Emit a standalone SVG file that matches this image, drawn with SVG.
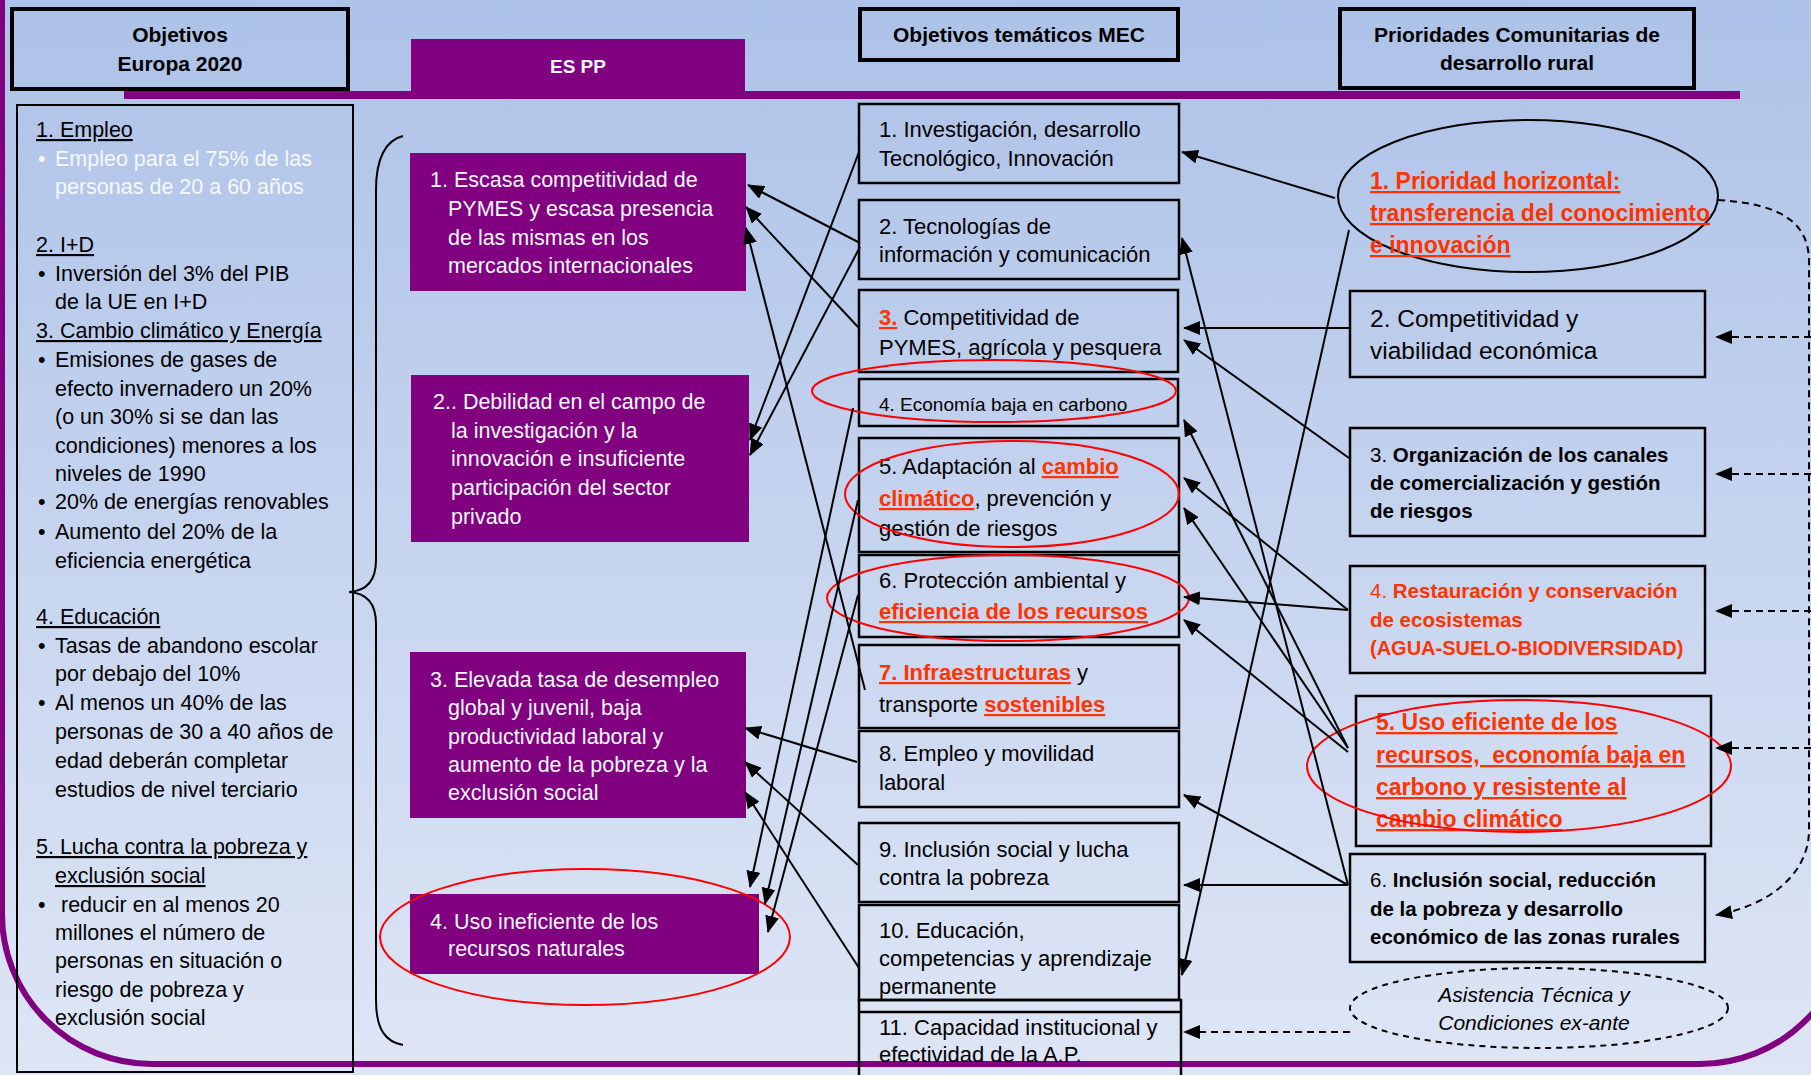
<svg xmlns="http://www.w3.org/2000/svg" width="1811" height="1075" viewBox="0 0 1811 1075">
<defs>
<linearGradient id="bg" x1="0" y1="0" x2="0" y2="1">
<stop offset="0" stop-color="#ADC2E8"/>
<stop offset="1" stop-color="#DEE6F5"/>
</linearGradient>
<marker id="ah" markerUnits="userSpaceOnUse" markerWidth="17" markerHeight="14" refX="16" refY="7" orient="auto">
<path d="M0,0 L17,7 L0,14 z" fill="#000"/>
</marker>
<style>
text { font-family: "Liberation Sans", Arial, sans-serif; font-size: 21.5px; fill: #000; }
.m { font-size: 22px; }
.sm { font-size: 19px; }
.p { font-size: 20.5px; }
.big { font-size: 24.5px; }
.pb { font-size: 23px; font-weight: bold; fill: #FF3300; text-decoration: underline; }
.h { font-size: 21px; font-weight: bold; }
.w { fill: #F6F8FC; }
.b { font-weight: bold; }
.r { fill: #FF3300; }
.u { text-decoration: underline; }
.it { font-style: italic; font-size: 21px; }
.box { fill: none; stroke: #000; stroke-width: 2.5; }
.hbox { fill: none; stroke: #000; stroke-width: 4; }
.pbox { fill: #800080; }
.ell { fill: none; stroke: #FF0000; stroke-width: 2; }
.c { stroke: #000; stroke-width: 2; fill: none; marker-end: url(#ah); }
.d { stroke: #000; stroke-width: 2; stroke-dasharray: 7 5; fill: none; }
</style>
</defs>
<rect x="0" y="0" width="1811" height="1075" fill="url(#bg)"/>
<path d="M2,0 V913 A150,150 0 0 0 152,1064 H1700 A150,150 0 0 0 1850,913" stroke="#800080" stroke-width="6" fill="none"/>
<rect x="124" y="91" width="1616" height="8" fill="#800080"/>

<g id="hdr-europa">
<rect class="hbox" x="12" y="9" width="336" height="80"/>
<text class="h" x="180" y="42" text-anchor="middle">Objetivos</text>
<text class="h" x="180" y="71" text-anchor="middle">Europa 2020</text>
</g>
<g id="hdr-espp">
<rect class="pbox" x="411" y="39" width="334" height="53"/>
<text class="b w" x="578" y="73" text-anchor="middle" style="font-size:19px">ES PP</text>
</g>
<g id="hdr-mec">
<rect class="hbox" x="860" y="9" width="318" height="51"/>
<text class="h" x="1019" y="42" text-anchor="middle">Objetivos temáticos MEC</text>
</g>
<g id="hdr-prior">
<rect class="hbox" x="1340" y="9" width="354" height="79"/>
<text class="h" x="1517" y="42" text-anchor="middle">Prioridades Comunitarias de</text>
<text class="h" x="1517" y="70" text-anchor="middle">desarrollo rural</text>
</g>

<g id="europa2020">
<rect x="17" y="105" width="336" height="967" fill="none" stroke="#000" stroke-width="2"/>
<text class="u" x="36" y="137">1. Empleo</text>
<text class="w" x="38" y="166">•</text><text class="w" x="55" y="166">Empleo para el 75% de las</text>
<text class="w" x="55" y="194">personas de 20 a 60 años</text>
<text class="u" x="36" y="252">2. I+D</text>
<text x="38" y="281">•</text><text x="55" y="281">Inversión del 3% del PIB</text>
<text x="55" y="309">de la UE en I+D</text>
<text class="u" x="36" y="338">3. Cambio climático y Energía</text>
<text x="38" y="367">•</text><text x="55" y="367">Emisiones de gases de</text>
<text x="55" y="396">efecto invernadero un 20%</text>
<text x="55" y="424">(o un 30% si se dan las</text>
<text x="55" y="453">condiciones) menores a los</text>
<text x="55" y="481">niveles de 1990</text>
<text x="38" y="509">•</text><text x="55" y="509">20% de energías renovables</text>
<text x="38" y="539">•</text><text x="55" y="539">Aumento del 20% de la</text>
<text x="55" y="568">eficiencia energética</text>
<text class="u" x="36" y="624">4. Educación</text>
<text x="38" y="653">•</text><text x="55" y="653">Tasas de abandono escolar</text>
<text x="55" y="681">por debajo del 10%</text>
<text x="38" y="710">•</text><text x="55" y="710">Al menos un 40% de las</text>
<text x="55" y="739">personas de 30 a 40 años de</text>
<text x="55" y="768">edad deberán completar</text>
<text x="55" y="797">estudios de nivel terciario</text>
<text class="u" x="36" y="854">5. Lucha contra la pobreza y</text>
<text class="u" x="55" y="883">exclusión social</text>
<text x="38" y="912">•</text><text x="61" y="912">reducir en al menos 20</text>
<text x="55" y="940">millones el número de</text>
<text x="55" y="968">personas en situación o</text>
<text x="55" y="997">riesgo de pobreza y</text>
<text x="55" y="1025">exclusión social</text>
</g>

<g id="brace">
<path d="M403,136 C386,140 376,158 376,190 L376,560 C376,582 366,591 349,592 C366,593 376,602 376,624 L376,1000 C376,1030 386,1042 403,1045" fill="none" stroke="#000" stroke-width="2"/>
</g>

<g id="espp1">
<rect class="pbox" x="410" y="153" width="336" height="138"/>
<text class="w" x="430" y="187">1. Escasa competitividad de</text>
<text class="w" x="448" y="216">PYMES y escasa presencia</text>
<text class="w" x="448" y="245">de las mismas en los</text>
<text class="w" x="448" y="273">mercados internacionales</text>
</g>
<g id="espp2">
<rect class="pbox" x="411" y="375" width="338" height="167"/>
<text class="w" x="433" y="409">2.. Debilidad en el campo de</text>
<text class="w" x="451" y="438">la investigación y la</text>
<text class="w" x="451" y="466">innovación e insuficiente</text>
<text class="w" x="451" y="495">participación del sector</text>
<text class="w" x="451" y="524">privado</text>
</g>
<g id="espp3">
<rect class="pbox" x="410" y="652" width="336" height="166"/>
<text class="w" x="430" y="687">3. Elevada tasa de desempleo</text>
<text class="w" x="448" y="715">global y juvenil, baja</text>
<text class="w" x="448" y="744">productividad laboral y</text>
<text class="w" x="448" y="772">aumento de la pobreza y la</text>
<text class="w" x="448" y="800">exclusión social</text>
</g>
<g id="espp4">
<rect class="pbox" x="410" y="894" width="349" height="80"/>
<text class="w" x="430" y="929">4. Uso ineficiente de los</text>
<text class="w" x="448" y="956">recursos naturales</text>
<ellipse class="ell" cx="585" cy="937" rx="205" ry="68"/>
</g>

<g id="mec1">
<rect class="box" x="859" y="104" width="320" height="79"/>
<text class="m" x="879" y="137">1. Investigación, desarrollo</text>
<text class="m" x="879" y="166">Tecnológico, Innovación</text>
</g>
<g id="mec2">
<rect class="box" x="859" y="200" width="320" height="79"/>
<text class="m" x="879" y="234">2. Tecnologías de</text>
<text class="m" x="879" y="262">información y comunicación</text>
</g>
<g id="mec3">
<rect class="box" x="859" y="290" width="319" height="82"/>
<text class="m" x="879" y="325"><tspan class="r b u">3.</tspan> Competitividad de</text>
<text class="m" x="879" y="355">PYMES, agrícola y pesquera</text>
</g>
<g id="mec4">
<rect class="box" x="859" y="379" width="319" height="47"/>
<text class="sm" x="879" y="411">4. Economía baja en carbono</text>
<ellipse class="ell" cx="994" cy="391" rx="182" ry="31"/>
</g>
<g id="mec5">
<rect class="box" x="859" y="438" width="320" height="114"/>
<text class="m" x="879" y="474">5. Adaptación al <tspan class="r b u">cambio</tspan></text>
<text class="m" x="879" y="506"><tspan class="r b u">climático</tspan>, prevención y</text>
<text class="m" x="879" y="536">gestión de riesgos</text>
<ellipse class="ell" cx="1012" cy="494" rx="167" ry="53"/>
</g>
<g id="mec6">
<rect class="box" x="859" y="555" width="320" height="82"/>
<text class="m" x="879" y="588">6. Protección ambiental y</text>
<text class="m r b u" x="879" y="619">eficiencia de los recursos</text>
<ellipse class="ell" cx="1008" cy="598" rx="181" ry="43"/>
</g>
<g id="mec7">
<rect class="box" x="859" y="645" width="320" height="83"/>
<text class="m" x="879" y="680"><tspan class="r b u">7. Infraestructuras</tspan> y</text>
<text class="m" x="879" y="712">transporte <tspan class="r b u">sostenibles</tspan></text>
</g>
<g id="mec8">
<rect class="box" x="859" y="731" width="320" height="76"/>
<text class="m" x="879" y="761">8. Empleo y movilidad</text>
<text class="m" x="879" y="790">laboral</text>
</g>
<g id="mec9">
<rect class="box" x="859" y="823" width="320" height="79"/>
<text class="m" x="879" y="857">9. Inclusión social y lucha</text>
<text class="m" x="879" y="885">contra la pobreza</text>
</g>
<g id="mec10">
<rect class="box" x="859" y="905" width="320" height="95"/>
<text class="m" x="879" y="938">10. Educación,</text>
<text class="m" x="879" y="966">competencias y aprendizaje</text>
<text class="m" x="879" y="994">permanente</text>
</g>
<g id="mec11">
<rect class="box" x="859" y="1000" width="322" height="92"/>
<line x1="859" y1="1012" x2="1181" y2="1012" stroke="#000" stroke-width="2.5"/>
<text class="m" x="879" y="1035">11. Capacidad institucional y</text>
<text class="m" x="879" y="1062">efectividad de la A.P.</text>
</g>

<g id="prio1">
<ellipse cx="1528" cy="196" rx="190" ry="76" fill="none" stroke="#000" stroke-width="2"/>
<text class="pb" x="1370" y="189">1. Prioridad horizontal:</text>
<text class="pb" x="1370" y="221">transferencia del conocimiento</text>
<text class="pb" x="1370" y="253">e innovación</text>
</g>
<g id="prio2">
<rect class="box" x="1350" y="291" width="355" height="86"/>
<text class="big" x="1370" y="327">2. Competitividad y</text>
<text class="big" x="1370" y="359">viabilidad económica</text>
</g>
<g id="prio3">
<rect class="box" x="1350" y="428" width="355" height="108"/>
<text class="p" x="1370" y="462">3. <tspan class="b">Organización de los canales</tspan></text>
<text class="p b" x="1370" y="490">de comercialización y gestión</text>
<text class="p b" x="1370" y="518">de riesgos</text>
</g>
<g id="prio4">
<rect class="box" x="1350" y="566" width="355" height="107"/>
<text class="p r" x="1370" y="598">4. <tspan class="b">Restauración y conservación</tspan></text>
<text class="p r b" x="1370" y="627">de ecosistemas</text>
<text class="p r b" x="1370" y="655" style="font-size:20px">(AGUA-SUELO-BIODIVERSIDAD)</text>
</g>
<g id="prio5">
<rect class="box" x="1356" y="696" width="355" height="150"/>
<text class="pb" x="1376" y="730">5. Uso eficiente de los</text>
<text class="pb" x="1376" y="763" xml:space="preserve">recursos,  economía baja en</text>
<text class="pb" x="1376" y="795">carbono y resistente al</text>
<text class="pb" x="1376" y="827">cambio climático</text>
<ellipse class="ell" cx="1519" cy="766" rx="212" ry="66"/>
</g>
<g id="prio6">
<rect class="box" x="1350" y="854" width="355" height="108"/>
<text class="p" x="1370" y="887">6. <tspan class="b">Inclusión social, reducción</tspan></text>
<text class="p b" x="1370" y="916">de la pobreza y desarrollo</text>
<text class="p b" x="1370" y="944">económico de las zonas rurales</text>
</g>
<g id="asistencia">
<ellipse cx="1539" cy="1008" rx="189" ry="40" fill="none" stroke="#000" stroke-width="2" stroke-dasharray="6 5"/>
<text class="it" x="1534" y="1002" text-anchor="middle">Asistencia Técnica y</text>
<text class="it" x="1534" y="1030" text-anchor="middle">Condiciones ex-ante</text>
</g>

<g id="connectors">
<line class="c" x1="860" y1="243" x2="748" y2="185"/>
<line class="c" x1="858" y1="327" x2="746" y2="207"/>
<line class="c" x1="865" y1="690" x2="746" y2="228"/>
<line class="c" x1="859" y1="152" x2="750" y2="440"/>
<line class="c" x1="860" y1="247" x2="750" y2="455"/>
<line class="c" x1="857" y1="762" x2="745" y2="728"/>
<line class="c" x1="858" y1="865" x2="745" y2="762"/>
<line class="c" x1="859" y1="968" x2="745" y2="792"/>
<line class="c" x1="853" y1="408" x2="750" y2="887"/>
<line class="c" x1="858" y1="500" x2="765" y2="904"/>
<line class="c" x1="858" y1="595" x2="768" y2="932"/>

<line class="c" x1="1335" y1="198" x2="1182" y2="152"/>
<line class="c" x1="1349" y1="230" x2="1182" y2="975"/>
<line class="c" x1="1349" y1="328" x2="1184" y2="328"/>
<line class="c" x1="1349" y1="458" x2="1184" y2="340"/>
<line class="c" x1="1348" y1="610" x2="1184" y2="478"/>
<line class="c" x1="1348" y1="610" x2="1184" y2="597"/>
<line class="c" x1="1348" y1="748" x2="1184" y2="420"/>
<line class="c" x1="1348" y1="748" x2="1184" y2="508"/>
<line class="c" x1="1348" y1="752" x2="1184" y2="620"/>
<line class="c" x1="1348" y1="885" x2="1182" y2="238"/>
<line class="c" x1="1348" y1="885" x2="1184" y2="795"/>
<line class="c" x1="1348" y1="885" x2="1184" y2="885"/>

<line class="d" x1="1350" y1="1032" x2="1184" y2="1032" marker-end="url(#ah)"/>
<path class="d" d="M1718,200 C1785,204 1809,225 1809,262 L1809,830 C1809,872 1772,905 1716,915" marker-end="url(#ah)"/>
<line class="d" x1="1811" y1="337" x2="1716" y2="337" marker-end="url(#ah)"/>
<line class="d" x1="1811" y1="474" x2="1716" y2="474" marker-end="url(#ah)"/>
<line class="d" x1="1811" y1="611" x2="1716" y2="611" marker-end="url(#ah)"/>
<line class="d" x1="1811" y1="748" x2="1716" y2="748" marker-end="url(#ah)"/>
</g>
</svg>
